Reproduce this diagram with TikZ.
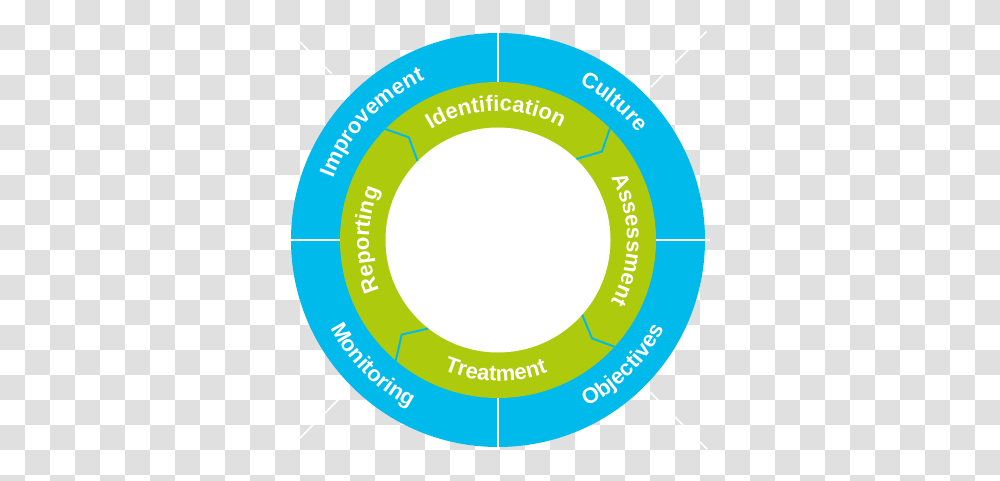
\documentclass[tikz,border=0pt]{standalone}
\usepackage{fontspec}
\setmainfont{Liberation Sans}
\usetikzlibrary{decorations.text}
\definecolor{ringblue}{RGB}{0,186,235}
\definecolor{ringgreen}{RGB}{174,202,12}
\definecolor{checkgray}{RGB}{224,224,224}
\newcommand{\lblfont}{\fontsize{11}{13}\selectfont\bfseries}
\begin{document}
\begin{tikzpicture}[x=0.5pt,y=0.5pt,
  arctext/.style={decorate, decoration={text along path, text align=center, text color=white, text={|\lblfont|#1}}},
  divider/.style={draw=white, line width=1.2pt},
  diagline/.style={draw=white, line width=0.8pt},
  chev/.style={draw=ringblue, line width=1pt, line join=miter},
]
\useasboundingbox (-498,-241) rectangle (502,240);
% checkered background
\begin{scope}
\clip (-498,-241) rectangle (502,240);
\fill[white] (-498,-241) rectangle (502,240);
\foreach \r in {0,...,19}{
  \pgfmathtruncatemacro\off{mod(\r+1,2)}
  \foreach \k in {0,...,19}{
    \fill[checkgray] ({-498+25*(2*\k+\off)},{240-25*\r}) rectangle ++(25,-25);
  }
}
\end{scope}
% diagonal guide lines
\draw[diagline] (135:235) -- (135:280);
\draw[diagline] (45:216) -- (45:295);
\draw[diagline] (225:215) -- (225:297);
\draw[diagline] (-45:215) -- (-45:296);
% rings
\fill[ringblue] (0,0) circle[radius=207];
\fill[ringgreen] (0,0) circle[radius=158];
\fill[white] (0,0) circle[radius=112.5];
% dividers of outer ring
\draw[divider] (0,209) -- (0,157.5);
\draw[divider] (0,-157.5) -- (0,-210);
\draw[divider] (-208,0) -- (-157.5,0);
\draw[divider] (157.5,0) -- (212,0);
% chevron separators in green ring
\draw[chev] (135.4:158) -- (131:136) -- (135.5:112.8);
\draw[chev] (44.9:158) -- (40.4:136.5) -- (45.9:112.8);
\draw[chev] (-42.5:158) -- (-46.3:136) -- (-41.6:112.8);
\draw[chev] (229.7:158) -- (224.5:135) -- (231.7:112.8);
% outer labels
\path[arctext=Improvement] (197:176) arc[start angle=197, end angle=77, radius=176];
\path[arctext=Culture] (110:176) arc[start angle=110, end angle=-10, radius=176];
\path[arctext=Objectives] (-105:189) arc[start angle=-105, end angle=15, radius=189];
\path[arctext=Monitoring] (165:189) arc[start angle=165, end angle=285, radius=189];
% inner labels
\path[arctext=Identification] (151:129) arc[start angle=151, end angle=31, radius=129];
\path[arctext=Assessment] (60:129) arc[start angle=60, end angle=-60, radius=129];
\path[arctext=Reporting] (240:129) arc[start angle=240, end angle=120, radius=129];
\path[arctext=Treatment] (209:141) arc[start angle=209, end angle=329, radius=141];
\end{tikzpicture}
\end{document}
